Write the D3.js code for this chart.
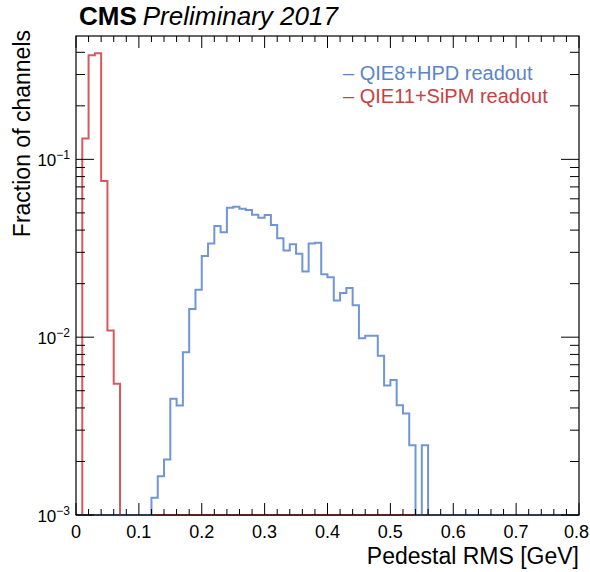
<!DOCTYPE html>
<html>
<head>
<meta charset="utf-8">
<script src="https://cdn.jsdelivr.net/npm/d3@7"></script>
<style>
  body { margin: 0; background: #fff; }
  svg text { font-family: "Liberation Sans", Arial, Helvetica, sans-serif; }
</style>
</head>
<body>
<svg id="chart" width="590" height="572"></svg>
<script>
// Histogram bin edges: 80 bins of 0.01 GeV from 0 to 0.8
const binWidth = 0.01;
const nBins = 80;

// QIE11+SiPM readout: bins starting at 0.00 .. 0.06 (rest are empty)
const sipmStart = 0.00;
const sipmValues = [0, 0.131, 0.385, 0.395, 0.0755, 0.0109, 0.00547];

// QIE8+HPD readout: bins starting at 0.12 .. 0.55 (rest are empty)
const hpdStart = 0.12;
const hpdValues = [
  0.00125, 0.00165, 0.00205, 0.0045, 0.00413, 0.00824, 0.0144, 0.0185,
  0.0286, 0.0336, 0.0422, 0.0389, 0.0535, 0.0542, 0.0528, 0.0519,
  0.0488, 0.0470, 0.0486, 0.0428, 0.0360, 0.0307, 0.0333, 0.0295,
  0.0234, 0.0336, 0.0340, 0.0226, 0.0217, 0.0161, 0.0177, 0.0189,
  0.0151, 0.00987, 0.0102, 0.0102, 0.00785, 0.00535, 0.00575, 0.00414,
  0.00372, 0.00247, 0, 0.00247
];

const xTickLabels = ["0", "0.1", "0.2", "0.3", "0.4", "0.5", "0.6", "0.7", "0.8"];
const yTickExps = ["−3", "−2", "−1"];

const seriesNames = ["QIE8+HPD readout", "QIE11+SiPM readout"];
const lineColors = ["#7096d6", "#d9595b"];
const textColors = ["#5b85c9", "#c9403f"];

const svg = d3.select("#chart");
const W = 590;
const m = { left: 76, right: 579, top: 36, bottom: 515 };

const x = d3.scaleLinear().domain([0, 0.8]).range([m.left, m.right]);
const yMin = 1e-3, yMax = 0.494;
const y = d3.scaleLog().domain([yMin, yMax]).range([m.bottom, m.top]);

// Expand a partial list of bin contents into a full 80-bin histogram
function fullHist(start, vals) {
  const out = new Array(nBins).fill(0);
  const offset = Math.round(start / binWidth);
  vals.forEach((v, i) => { out[offset + i] = v; });
  return out;
}

// Step outline in ROOT style; empty bins sit on the lower frame edge
function stepPath(counts) {
  const yy = v => (v > yMin ? y(v) : y(yMin));
  let p = `M${x(0)},${y(yMin)}`;
  counts.forEach((v, i) => {
    const x0 = x(i * binWidth), x1 = x((i + 1) * binWidth);
    p += `L${x0},${yy(v)}L${x1},${yy(v)}`;
  });
  p += `L${x(nBins * binWidth)},${y(yMin)}`;
  return p;
}

const hpd = fullHist(hpdStart, hpdValues);
const sipm = fullHist(sipmStart, sipmValues);

const plot = svg.append("g");
plot.append("path").attr("d", stepPath(sipm))
  .attr("fill", "none").attr("stroke", lineColors[1]).attr("stroke-width", 2)
  .attr("stroke-linejoin", "miter");
plot.append("path").attr("d", stepPath(hpd))
  .attr("fill", "none").attr("stroke", lineColors[0]).attr("stroke-width", 2)
  .attr("stroke-linejoin", "miter");

// Frame
svg.append("rect")
  .attr("x", m.left).attr("y", m.top)
  .attr("width", m.right - m.left).attr("height", m.bottom - m.top)
  .attr("fill", "none").attr("stroke", "#000").attr("stroke-width", 1.2);

// X ticks (inside, bottom and top)
const xMajor = d3.range(0, 9).map(i => i * 0.1);
const xMinor = d3.range(0, 41).map(i => i * 0.02).filter(v => Math.abs(v * 10 - Math.round(v * 10)) > 1e-6);
const ticks = svg.append("g").attr("stroke", "#000").attr("stroke-width", 1);
xMajor.forEach(v => {
  ticks.append("line").attr("x1", x(v)).attr("x2", x(v)).attr("y1", m.bottom).attr("y2", m.bottom - 12);
  ticks.append("line").attr("x1", x(v)).attr("x2", x(v)).attr("y1", m.top).attr("y2", m.top + 12);
});
xMinor.forEach(v => {
  ticks.append("line").attr("x1", x(v)).attr("x2", x(v)).attr("y1", m.bottom).attr("y2", m.bottom - 6);
  ticks.append("line").attr("x1", x(v)).attr("x2", x(v)).attr("y1", m.top).attr("y2", m.top + 6);
});

// Y ticks (log: majors at decades, minors at 2..9)
const yMajor = [1e-3, 1e-2, 1e-1];
const yMinor = [];
[1e-3, 1e-2, 1e-1].forEach(d => { for (let k = 2; k <= 9; k++) if (d * k <= yMax) yMinor.push(d * k); });
yMajor.forEach(v => {
  ticks.append("line").attr("x1", m.left).attr("x2", m.left + 18).attr("y1", y(v)).attr("y2", y(v));
  ticks.append("line").attr("x1", m.right).attr("x2", m.right - 18).attr("y1", y(v)).attr("y2", y(v));
});
yMinor.forEach(v => {
  ticks.append("line").attr("x1", m.left).attr("x2", m.left + 9).attr("y1", y(v)).attr("y2", y(v));
  ticks.append("line").attr("x1", m.right).attr("x2", m.right - 9).attr("y1", y(v)).attr("y2", y(v));
});

// X tick labels (centred on ticks, kept inside the page at the right edge)
svg.append("g").selectAll("text").data(xTickLabels).join("text")
  .attr("x", (d, i) => x(xMajor[i]))
  .attr("y", 538)
  .attr("text-anchor", "middle")
  .attr("font-size", 18)
  .text(d => d)
  .each(function () {
    const b = this.getBBox();
    if (b.x + b.width > W - 1) this.setAttribute("x", +this.getAttribute("x") - (b.x + b.width - (W - 1)));
  });

// Y tick labels: 10^exp
yMajor.forEach((v, i) => {
  const t = svg.append("text")
    .attr("x", 70).attr("y", y(v) + 7)
    .attr("text-anchor", "end").attr("font-size", 17);
  t.append("tspan").text("10");
  t.append("tspan").attr("dy", -7).attr("font-size", 12).text(yTickExps[i]);
});

// Axis titles
svg.append("text")
  .attr("x", m.right).attr("y", 564)
  .attr("text-anchor", "end").attr("font-size", 23)
  .text("Pedestal RMS [GeV]");
svg.append("text")
  .attr("transform", `translate(30,${m.top - 6}) rotate(-90)`)
  .attr("text-anchor", "end").attr("font-size", 23)
  .text("Fraction of channels");

// CMS label
const head = svg.append("text").attr("x", 79).attr("y", 25).attr("font-size", 26);
head.append("tspan").attr("font-weight", "bold").text("CMS");
head.append("tspan").attr("font-style", "italic").attr("dx", 6).text("Preliminary 2017");

// Legend
seriesNames.forEach((name, i) => {
  svg.append("text")
    .attr("x", 343).attr("y", 80 + i * 23)
    .attr("font-size", 20)
    .attr("fill", textColors[i])
    .text("– " + name);
});
</script>
</body>
</html>
